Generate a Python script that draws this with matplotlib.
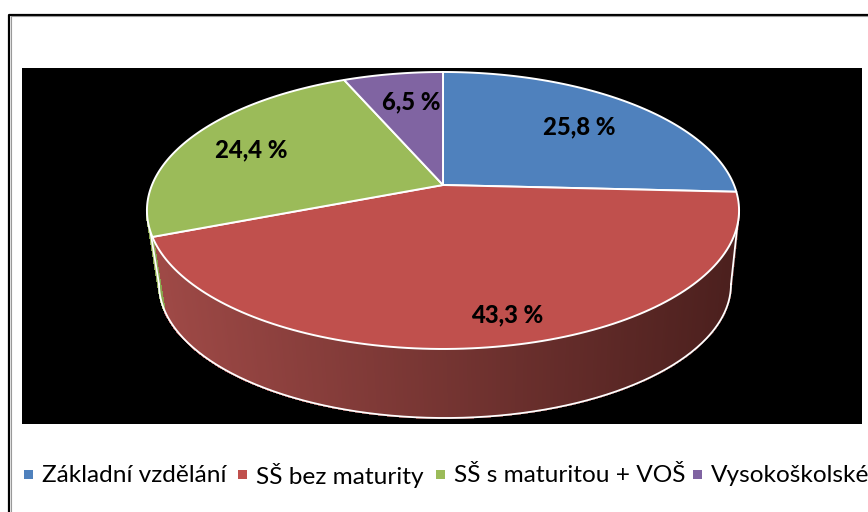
import numpy as np
import matplotlib
matplotlib.use("Agg")
import matplotlib.pyplot as plt
from matplotlib.collections import PolyCollection
from matplotlib.colors import to_rgb
from matplotlib.patches import Polygon, Rectangle

categories = ["Základní vzdělání", "SŠ bez maturity", "SŠ s maturitou + VOŠ", "Vysokoškolské"]
shares = [25.8, 43.3, 24.4, 6.5]
share_labels = ["25,8 %", "43,3 %", "24,4 %", "6,5 %"]
colors = ["#4f81bd", "#c0504d", "#9bbb59", "#8064a2"]

plt.rcParams["font.family"] = ["Lato", "DejaVu Sans"]

# perspective of the pie, in pixels
CX, CY = 443, 185
A, B, K = 291.0, 133.8, 0.184
DEPTH_X, DEPTH_Y, SHRINK = 2.0, 74.6, 0.966


def top(theta):
    u, v = np.sin(theta), np.cos(theta)
    d = 1 + K * v
    return CX + A * u / d, CY - B * v / d


def bottom(theta):
    u, v = np.sin(theta), np.cos(theta)
    d = 1 + K * v
    return CX + DEPTH_X + SHRINK * A * u / d, CY + DEPTH_Y - SHRINK * B * v / d


fig = plt.figure(figsize=(8.68, 5.12), dpi=100)
ax = fig.add_axes([0, 0, 1, 1])
ax.set_xlim(0, 868)
ax.set_ylim(512, 0)
ax.axis("off")

# chart frame and black plot area
ax.plot([868, 9, 9], [14.5, 14.5, 512], color="black", lw=1.6, zorder=1)
ax.plot([868, 11, 11], [16, 16, 512], color="#999999", lw=0.8, zorder=1)
ax.add_patch(Rectangle((22, 68), 840, 356, color="black", lw=0, zorder=1))

edges = np.cumsum([0] + shares) / sum(shares) * 2 * np.pi

# side wall, left silhouette to right silhouette
side = np.arccos(-K)
thetas = np.linspace(side, 2 * np.pi - side, 240)
dark, light = np.array(to_rgb("#4a1f1d")), np.array(to_rgb("#a04a47"))
strips, strip_colors = [], []
for a, b in zip(thetas[:-1], thetas[1:]):
    xa, ya = top(a)
    xb, yb = top(b)
    xc, yc = bottom(b)
    xd, yd = bottom(a)
    strips.append([(xa, ya), (xb, yb), (xc, yc), (xd, yd)])
    mid = (a + b) / 2
    t = (bottom(mid)[0] - 155) / 580
    if mid > edges[2]:
        strip_colors.append(to_rgb("#8aa64e"))
    else:
        strip_colors.append(tuple(light + (dark - light) * min(max(t, 0), 1)))
ax.add_collection(PolyCollection(strips, facecolors=strip_colors, edgecolors=strip_colors,
                                 linewidths=1.0, antialiaseds=False, zorder=2))

# white outline of the wall
bx, by = bottom(thetas)
ax.plot(bx, by, color="white", lw=1.3, zorder=3)
for th in (thetas[0], thetas[-1]):
    ax.plot([top(th)[0], bottom(th)[0]], [top(th)[1], bottom(th)[1]], color="white", lw=1.3, zorder=3)

# top face
for i, c in enumerate(colors):
    arc = np.linspace(edges[i], edges[i + 1], 120)
    x, y = top(arc)
    pts = np.column_stack([np.r_[CX, x], np.r_[CY, y]])
    ax.add_patch(Polygon(pts, closed=True, facecolor=c, edgecolor="white", lw=1.4,
                         joinstyle="round", zorder=4))

label_pos = [(579, 127), (507, 315), (251, 150), (411, 102)]
for txt, (lx, ly) in zip(share_labels, label_pos):
    ax.text(lx, ly, txt, fontsize=17.2, fontweight=900, ha="center", va="center",
            color="black", zorder=5)

# legend
legend_x = [42, 256, 454, 711]
for name, c, lx in zip(categories, colors, legend_x):
    ax.add_patch(Rectangle((lx - 18, 470), 9, 9, color=c, lw=0, zorder=5))
    ax.text(lx, 475, name, fontsize=17.6, ha="left", va="center", color="black", zorder=5, clip_on=True)

fig.savefig("out.png", dpi=100)
